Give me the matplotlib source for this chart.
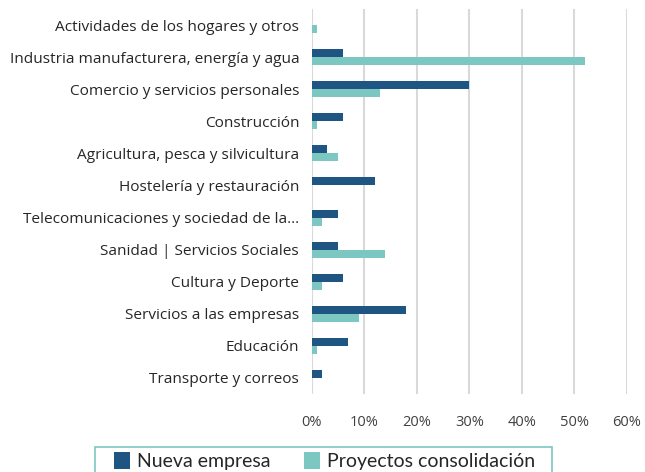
import matplotlib.pyplot as plt
import numpy as np
from matplotlib.patches import Rectangle
from matplotlib.ticker import PercentFormatter

categories = [
    'Actividades de los hogares y otros',
    'Industria manufacturera, energía y agua',
    'Comercio y servicios personales',
    'Construcción',
    'Agricultura, pesca y silvicultura',
    'Hostelería y restauración',
    'Telecomunicaciones y sociedad de la...',
    'Sanidad | Servicios Sociales',
    'Cultura y Deporte',
    'Servicios a las empresas',
    'Educación',
    'Transporte y correos',
]
nueva_empresa = [0, 6, 30, 6, 3, 12, 5, 5, 6, 18, 7, 2]
consolidacion = [1, 52, 13, 1, 5, 0, 2, 14, 2, 9, 1, 0]
xticks = [0, 10, 20, 30, 40, 50, 60]

navy = '#1f5582'
teal = '#7cc7c1'

plt.rcParams['font.family'] = ['Open Sans', 'DejaVu Sans']

fig = plt.figure(figsize=(6.45, 4.72), dpi=100)
ax = fig.add_axes([311.7 / 645, 1 - 394 / 472, (627 - 311.7) / 645, (394 - 9) / 472])

y = np.arange(len(categories))
h = 0.25
ax.barh(y - h / 2, nueva_empresa, height=h, color=navy, label='Nueva empresa', zorder=3)
ax.barh(y + h / 2, consolidacion, height=h, color=teal, label='Proyectos consolidación', zorder=3)

ax.set_ylim(len(categories) - 0.5, -0.5)
ax.set_xlim(0, 60)
ax.set_xticks(xticks)
ax.xaxis.set_major_formatter(PercentFormatter(decimals=0))
ax.set_yticks(y)
ax.set_yticklabels(categories, fontsize=11.1, color='#262626')
ax.tick_params(axis='x', labelsize=10.5, labelcolor='#404040', length=0, pad=15)
ax.tick_params(axis='y', length=0, pad=9)
ax.grid(axis='x', color='#d9d9d9', linewidth=1.5, zorder=0)
for s in ax.spines.values():
    s.set_visible(False)

# legend box (cut off at the bottom edge like the original)
fig.patches.append(Rectangle((95 / 645, -0.02), 457 / 645, 0.02 + 25 / 472,
                             transform=fig.transFigure, fill=False,
                             edgecolor=teal, linewidth=1.2))
leg = fig.legend(loc='upper left', bbox_to_anchor=(109 / 645, 1 - 447.5 / 472), ncol=2,
                 frameon=False, handlelength=0.82,
                 handleheight=0.9, handletextpad=0.36, columnspacing=1.75, borderpad=0.25,
                 borderaxespad=0, prop={'family': ['Lato', 'DejaVu Sans'], 'size': 14})
for t in leg.get_texts():
    t.set_color('#262626')

fig.savefig('out.png', dpi=100)
